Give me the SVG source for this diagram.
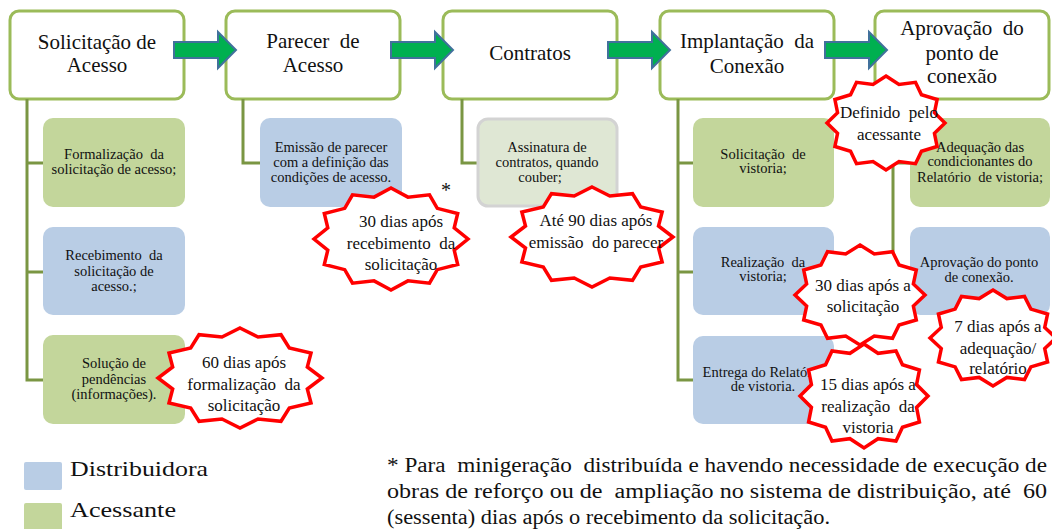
<svg xmlns="http://www.w3.org/2000/svg" width="1052" height="529" viewBox="0 0 1052 529" font-family="'Liberation Serif', Tinos, serif">
<style>
.hdr{fill:#fff;stroke:#9BBB59;stroke-width:3}
.conn{fill:none;stroke:#7A9643;stroke-width:3}
.g{fill:#C3D69B}
.b{fill:#B9CDE5}
.c{fill:#DFE7D4;stroke:#D3D3D3;stroke-width:3}
.arrow{fill:#00B050;stroke:#41719C;stroke-width:2}
.star{fill:#fff;stroke:#FF0000;stroke-width:3.5}
text{font-family:'Liberation Serif', Tinos, serif;fill:#111;text-anchor:middle}
.h{font-size:21px}
.s{font-size:14.5px}
.t{font-size:17px}
.lg{font-size:22px;text-anchor:start}
.fn{font-size:20px;text-anchor:start}
</style>
<defs>
<path id="arr" d="M0,-8 H44 V-18 L62,0 L44,18 V8 H0 Z"/>
<polygon id="star12" vector-effect="non-scaling-stroke" points="0,-100 22,-82.1 50,-86.6 60.1,-60.1 86.6,-50 82.1,-22 100,0 82.1,22 86.6,50 60.1,60.1 50,86.6 22,82.1 0,100 -22,82.1 -50,86.6 -60.1,60.1 -86.6,50 -82.1,22 -100,0 -82.1,-22 -86.6,-50 -60.1,-60.1 -50,-86.6 -22,-82.1"/>
</defs>

<g id="h1"><rect class="hdr" x="10" y="11" width="174" height="88" rx="9"/>
<text class="h" x="97" y="49">Solicitação de</text><text class="h" x="97" y="72">Acesso</text></g>
<g id="h2"><rect class="hdr" x="226" y="11" width="174" height="88" rx="9"/>
<text class="h" x="313" y="48" xml:space="preserve">Parecer  de</text><text class="h" x="313" y="72">Acesso</text></g>
<g id="h3"><rect class="hdr" x="443" y="11" width="174" height="88" rx="9"/>
<text class="h" x="530" y="60">Contratos</text></g>
<g id="h4"><rect class="hdr" x="660" y="11" width="174" height="88" rx="9"/>
<text class="h" x="747" y="48" xml:space="preserve">Implantação  da</text><text class="h" x="747" y="73">Conexão</text></g>
<g id="h5"><rect class="hdr" x="875" y="11" width="174" height="88" rx="9"/>
<text class="h" x="962" y="35" xml:space="preserve">Aprovação  do</text><text class="h" x="962" y="60">ponto de</text><text class="h" x="962" y="83">conexão</text></g>

<g id="connectors">
<path class="conn" d="M27,99 V380 H43 M27,163 H43 M27,272 H43"/>
<path class="conn" d="M243,99 V163 H260"/>
<path class="conn" d="M462,99 V163 H477"/>
<path class="conn" d="M678,99 V380 H693 M678,163 H693 M678,272 H693"/>
<path class="conn" d="M893,99 V272 H910 M893,163 H910"/>
<use href="#arr" class="arrow" transform="translate(174,50)"/>
<use href="#arr" class="arrow" transform="translate(391,50)"/>
<use href="#arr" class="arrow" transform="translate(608,50)"/>
<use href="#arr" class="arrow" transform="translate(825,50)"/>
</g>

<g id="c1a"><rect class="g" x="43" y="118" width="142" height="89" rx="10"/>
<text class="s" x="114" y="159" xml:space="preserve">Formalização  da</text><text class="s" x="114" y="174">solicitação de acesso;</text></g>
<g id="c1b"><rect class="b" x="43" y="227" width="142" height="88" rx="10"/>
<text class="s" x="114" y="260" xml:space="preserve">Recebimento  da</text><text class="s" x="114" y="275.5">solicitação de</text><text class="s" x="114" y="291">acesso.;</text></g>
<g id="c1c"><rect class="g" x="43" y="335" width="142" height="89" rx="10"/>
<text class="s" x="114" y="368">Solução de</text><text class="s" x="114" y="384">pendências</text><text class="s" x="114" y="399">(informações).</text></g>

<g id="c2"><rect class="b" x="260" y="118" width="142" height="89" rx="10"/>
<text class="s" x="331" y="152">Emissão de parecer</text><text class="s" x="331" y="167">com a definição das</text><text class="s" x="331" y="182">condições de acesso.</text></g>

<g id="c3"><rect class="c" x="478" y="119" width="139" height="87" rx="10"/>
<text class="s" x="547" y="152">Assinatura de</text><text class="s" x="547" y="167">contratos, quando</text><text class="s" x="540" y="182">couber;</text></g>

<g id="c4a"><rect class="g" x="693" y="118" width="141" height="89" rx="10"/>
<text class="s" x="763" y="159" xml:space="preserve">Solicitação  de</text><text class="s" x="763" y="173">vistoria;</text></g>
<g id="c4b"><rect class="b" x="693" y="227" width="141" height="88" rx="10"/>
<text class="s" x="763" y="267" xml:space="preserve">Realização  da</text><text class="s" x="763" y="281">vistoria;</text></g>
<g id="c4c"><rect class="b" x="693" y="336" width="141" height="88" rx="10"/>
<text class="s" x="763" y="377">Entrega do Relatório</text><text class="s" x="763" y="391">de vistoria.</text></g>

<g id="c5a"><rect class="g" x="910" y="118" width="140" height="89" rx="10"/>
<text class="s" x="980" y="152">Adequação das</text><text class="s" x="980" y="166">condicionantes do</text><text class="s" x="980" y="182" xml:space="preserve">Relatório  de vistoria;</text></g>
<g id="c5b"><rect class="b" x="910" y="227" width="140" height="88" rx="10"/>
<text class="s" x="979" y="267">Aprovação do ponto</text><text class="s" x="979" y="282">de conexão.</text></g>

<g id="star1"><use href="#star12" class="star" transform="translate(391,239) scale(.77,.51)"/>
<text class="t" x="401" y="227">30 dias após</text><text class="t" x="401" y="249" xml:space="preserve">recebimento  da</text><text class="t" x="401" y="270">solicitação</text></g>
<text x="446" y="197" style="font-size:20px">*</text>
<g id="star2"><use href="#star12" class="star" transform="translate(240,378) scale(.82,.50)"/>
<text class="t" x="244" y="368">60 dias após</text><text class="t" x="244" y="390" xml:space="preserve">formalização  da</text><text class="t" x="244" y="411">solicitação</text></g>
<g id="star3"><use href="#star12" class="star" transform="translate(592,237) scale(.81,.50)"/>
<text class="t" x="596" y="226">Até 90 dias após</text><text class="t" x="596" y="248" xml:space="preserve">emissão  do parecer</text></g>
<g id="star4"><use href="#star12" class="star" transform="translate(886,123) scale(.59,.47)"/>
<text class="t" x="889" y="118" xml:space="preserve">Definido  pelo</text><text class="t" x="889" y="140">acessante</text></g>
<g id="star5"><use href="#star12" class="star" transform="translate(860,295) scale(.65,.50)"/>
<text class="t" x="863" y="291">30 dias após a</text><text class="t" x="863" y="312">solicitação</text></g>
<g id="star6"><use href="#star12" class="star" transform="translate(864,396) scale(.64,.52)"/>
<text class="t" x="868" y="390">15 dias após a</text><text class="t" x="868" y="412" xml:space="preserve">realização  da</text><text class="t" x="868" y="433">vistoria</text></g>
<g id="star7"><use href="#star12" class="star" transform="translate(993,338) scale(.63,.48)"/>
<text class="t" x="998" y="332">7 dias após a</text><text class="t" x="998" y="354">adequação/</text><text class="t" x="998" y="374">relatório</text></g>

<g id="legend">
<rect class="b" x="24" y="462" width="38" height="28" rx="2"/>
<text class="lg" x="70" y="476" textLength="138" lengthAdjust="spacingAndGlyphs">Distribuidora</text>
<rect class="g" x="24" y="503" width="38" height="28" rx="2"/>
<text class="lg" x="70" y="517" textLength="106" lengthAdjust="spacingAndGlyphs">Acessante</text>
</g>

<g id="footnote">
<text class="fn" x="387" y="472" xml:space="preserve" textLength="660" lengthAdjust="spacingAndGlyphs">* Para  minigeração  distribuída e havendo necessidade de execução de</text>
<text class="fn" x="387" y="498" xml:space="preserve" textLength="660" lengthAdjust="spacingAndGlyphs">obras de reforço ou de  ampliação no sistema de distribuição, até  60</text>
<text class="fn" x="387" y="524" textLength="443" lengthAdjust="spacingAndGlyphs">(sessenta) dias após o recebimento da solicitação.</text>
</g>
</svg>
